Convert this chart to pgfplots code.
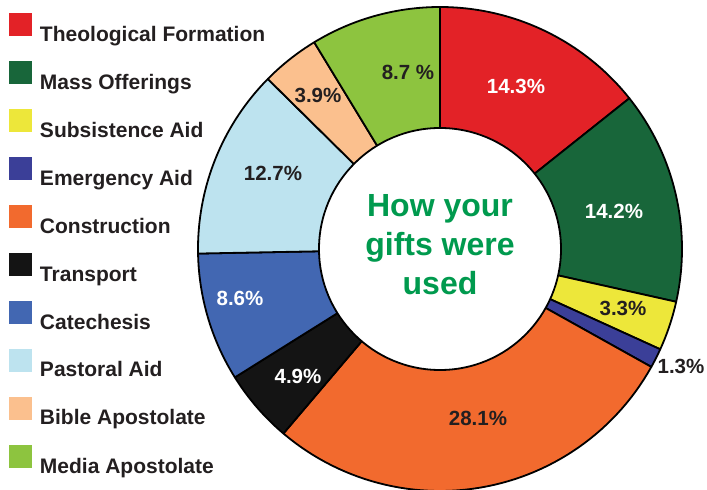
\documentclass[border=0pt]{standalone}
\usepackage{pgfplots}
\pgfplotsset{compat=1.18}
\usepackage{fontspec}
\setmainfont{Liberation Sans}
\definecolor{cTheo}{HTML}{E32227}
\definecolor{cMass}{HTML}{18663A}
\definecolor{cSubs}{HTML}{EDE73A}
\definecolor{cEmer}{HTML}{3B3F98}
\definecolor{cCons}{HTML}{F26A2E}
\definecolor{cTran}{HTML}{141414}
\definecolor{cCate}{HTML}{4267B2}
\definecolor{cPast}{HTML}{BDE3EF}
\definecolor{cBibl}{HTML}{FBC08E}
\definecolor{cMedi}{HTML}{8DC43F}
\definecolor{textgray}{HTML}{231F20}
\definecolor{titlegreen}{HTML}{009A4E}
% slice: start percent, end percent (cumulative shares), colour
\newcommand{\slice}[3]{%
  \addplot[fill=#3, draw=black, line width=1.8pt, line join=round,
    domain=#1:#2, samples=60, variable=\t]
    ({440+242*cos(90-3.6*\t)},{241+242*sin(90-3.6*\t)}) -- (440,241) -- cycle;}
\begin{document}
\begin{tikzpicture}
\begin{axis}[
  scale only axis, width=707pt, height=490pt,
  xmin=0, xmax=707, ymin=0, ymax=490,
  hide axis, clip=false,
  legend style={at={(axis cs:9,477)}, anchor=north west, draw=none, fill=none,
    inner sep=0pt, outer sep=0pt, row sep=15pt, column sep=8pt,
    font=\fontsize{21}{21}\selectfont\bfseries, text=textgray,
    nodes={inner sep=0pt, text height=16pt, text depth=5pt}},
  legend cell align=left,
  legend image code/.code={\fill[#1, draw=none] (0pt,-0.5pt) rectangle (23pt,22.5pt);},
]
% shares (percent): 14.3, 14.2, 3.3, 1.3, 28.1, 4.9, 8.6, 12.7, 3.9, 8.7
\slice{0}{14.3}{cTheo}   \addlegendentry{Theological Formation}
\slice{14.3}{28.5}{cMass} \addlegendentry{Mass Offerings}
\slice{28.5}{31.8}{cSubs} \addlegendentry{Subsistence Aid}
\slice{31.8}{33.1}{cEmer} \addlegendentry{Emergency Aid}
\slice{33.1}{61.2}{cCons} \addlegendentry{Construction}
\slice{61.2}{66.1}{cTran} \addlegendentry{Transport}
\slice{66.1}{74.7}{cCate} \addlegendentry{Catechesis}
\slice{74.7}{87.4}{cPast} \addlegendentry{Pastoral Aid}
\slice{87.4}{91.3}{cBibl} \addlegendentry{Bible Apostolate}
\slice{91.3}{100}{cMedi}  \addlegendentry{Media Apostolate}
\draw[fill=white, line width=1.8pt] (440,241) circle[radius=121];
\begin{scope}[every node/.style={font=\fontsize{20.5}{20.5}\selectfont\bfseries, text=textgray}]
\node[text=white] at (516,404) {14.3\%};
\node[text=white] at (614,279) {14.2\%};
\node at (623,182) {3.3\%};
\node at (681,124) {1.3\%};
\node at (478,72) {28.1\%};
\node[text=white] at (298,114) {4.9\%};
\node[text=white] at (240,192) {8.6\%};
\node at (273,317) {12.7\%};
\node at (318,395) {3.9\%};
\node at (408,418) {8.7 \%};
\end{scope}
\node[align=center, text=titlegreen, font=\fontsize{32}{39}\selectfont\bfseries] at (440,245) {How your\\gifts were\\used};
\end{axis}
\pgfresetboundingbox
\path[use as bounding box] (current axis.south west) rectangle (current axis.north east);
\end{tikzpicture}
\end{document}
